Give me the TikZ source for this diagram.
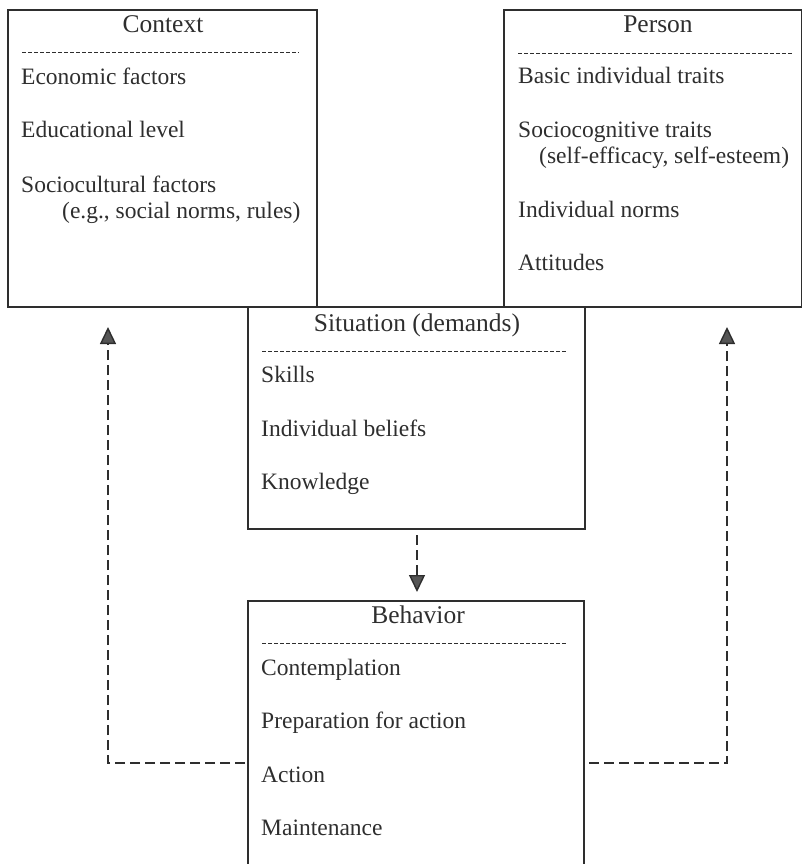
\documentclass[tikz,border=0pt]{standalone}
\usepackage{fontspec}
\setmainfont{Liberation Serif}
\usetikzlibrary{arrows.meta}
\definecolor{ink}{HTML}{2E2E2E}
\definecolor{tip}{HTML}{555555}
\tikzset{
  boxline/.style={draw=ink, line width=1.2pt},
  rule/.style={draw=ink, line width=0.8pt, dash pattern=on 4pt off 2pt},
  item/.style={anchor=base west, inner sep=0pt, text=ink, font=\fontsize{23.5}{27}\selectfont},
  title/.style={anchor=base, inner sep=0pt, text=ink, font=\fontsize{25.5}{29}\selectfont},
  feedback/.style={draw=ink, line width=1.4pt, dash pattern=on 10pt off 5pt,
    -{Triangle[length=17pt,width=16pt,fill=tip]}},
}
\begin{document}
\begin{tikzpicture}[x=1pt,y=-1pt]
\useasboundingbox (0,0) rectangle (803,864);
\begin{scope}
\clip (0,0) rectangle (803,864);
% Context box
\draw[boxline] (8,10) rectangle (317,307);
\node[title] (ctxT) at (163,33) {Context};
\draw[rule] (22,52) -- (299,52);
\node[item] (c1) at (21,85) {Economic factors};
\node[item] (c2) at (21,138) {Educational level};
\node[item] (c3) at (21,192) {Sociocultural factors};
\node[item] (c4) at (62,218) {(e.g., social norms, rules)};
% Person box
\draw[boxline] (504,10) rectangle (801.5,307);
\node[title] (perT) at (658,33) {Person};
\draw[rule] (518,53) -- (793,53);
\node[item] (p1) at (518,84) {Basic individual traits};
\node[item] (p2) at (518,137) {Sociocognitive traits};
\node[item] (p3) at (539,163) {(self-efficacy, self-esteem)};
\node[item] (p4) at (518,217) {Individual norms};
\node[item] (p5) at (518,270) {Attitudes};
% Situation box
\draw[boxline] (248,307) rectangle (585,529);
\node[title] (sitT) at (417,331) {Situation (demands)};
\draw[rule] (262,351) -- (567,351);
\node[item] (s1) at (261,382) {Skills};
\node[item] (s2) at (261,436) {Individual beliefs};
\node[item] (s3) at (261,489) {Knowledge};
\coordinate (sitB) at (417,535);
% Behavior box (continues past the bottom edge)
\draw[boxline] (248,880) -- (248,601) -- (584,601) -- (584,880);
\node[title] (behT) at (418,623) {Behavior};
\draw[rule] (262,643) -- (567,643);
\node[item] (b1) at (261,675) {Contemplation};
\node[item] (b2) at (261,728) {Preparation for action};
\node[item] (b3) at (261,782) {Action};
\node[item] (b4) at (261,835) {Maintenance};
\coordinate (behTop) at (417,592);
% connectors
\coordinate (lstart) at (245,763);
\coordinate (lcorner) at (108,763);
\coordinate (ltip) at (108,327);
\coordinate (rstart) at (589,763);
\coordinate (rcorner) at (727,763);
\coordinate (rtip) at (727,327);
\draw[feedback] (sitB) -- (behTop);
\draw[feedback] (lstart) -- (lcorner) -- (ltip);
\draw[feedback] (rstart) -- (rcorner) -- (rtip);
\end{scope}
\end{tikzpicture}
\end{document}
